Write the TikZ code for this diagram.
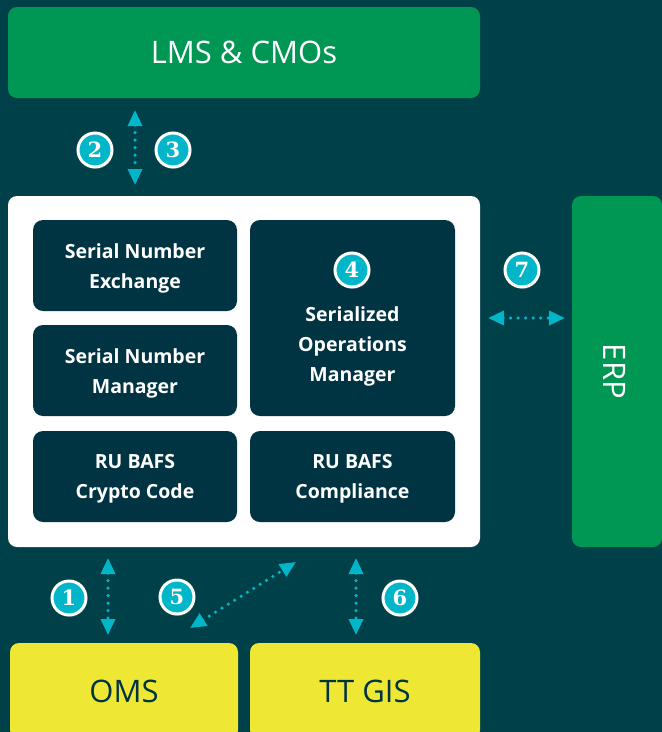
\documentclass[tikz,border=0pt]{standalone}
\usepackage{fontspec}
\setmainfont{Open Sans}
\newfontfamily\numfont{DejaVu Serif}[BoldFont={DejaVu Serif Bold}]
\usetikzlibrary{arrows.meta}
\usetikzlibrary{shadows}
\definecolor{bgteal}{RGB}{0,64,72}
\definecolor{sysgreen}{RGB}{0,150,84}
\definecolor{extyellow}{RGB}{238,232,52}
\definecolor{modblue}{RGB}{0,52,66}
\definecolor{dotcyan}{RGB}{0,182,200}
\tikzset{sysbox/.style={rounded corners=9pt, inner sep=0pt},
         bigtext/.style={font=\fontsize{31}{36}\selectfont},
         modbox/.style={fill=modblue, rounded corners=10pt, inner sep=0pt},
         modtext/.style={text=white, align=center, yshift=-2.5pt, font=\bfseries\fontsize{19.5}{30}\selectfont},
         numdot/.style={circle, fill=dotcyan, draw=white, line width=3pt,
                        minimum size=34pt, inner sep=0pt, text=white,
                        font=\numfont\bfseries\fontsize{21}{21}\selectfont,
                        drop shadow={opacity=0.35, shadow xshift=1pt, shadow yshift=-2pt}},
         flow/.style={draw=dotcyan, line width=3.5pt, line cap=round,
                      dash pattern=on 0pt off 7.5pt,
                      {Triangle[width=14pt,length=16pt]}-{Triangle[width=14pt,length=16pt]}}}

\begin{document}
\begin{tikzpicture}[x=1pt,y=-1pt]
\useasboundingbox (0,0) rectangle (662,732);
\clip (0,0) rectangle (662,732);
\fill[bgteal] (0,0) rectangle (662,732);
% systems around the platform
\node[sysbox, fill=sysgreen, minimum width=472pt, minimum height=91pt, text=white, bigtext] (lms) at (244,52.5) {LMS \& CMOs};
\node[sysbox, fill=sysgreen, minimum width=90pt, minimum height=351pt] (erp) at (617,371.5) {};
\node[text=white, bigtext, rotate=-90] (erplabel) at (615,371.5) {ERP};
\node[sysbox, fill=extyellow, minimum width=228pt, minimum height=96pt, text=modblue, bigtext] (oms) at (124,691) {OMS};
\node[sysbox, fill=extyellow, minimum width=230pt, minimum height=96pt, text=modblue, bigtext] (ttgis) at (365,691) {TT GIS};
% platform with its modules
\node[sysbox, fill=white, minimum width=472pt, minimum height=351pt] (platform) at (244,371.5) {};
\node[modbox, minimum width=204pt, minimum height=91pt] (sne) at (135,265.5) {};
\node[modbox, minimum width=204pt, minimum height=91pt] (snm) at (135,370.5) {};
\node[modbox, minimum width=204pt, minimum height=91pt] (crypto) at (135,476.5) {};
\node[modbox, minimum width=205pt, minimum height=196pt] (som) at (352.5,318) {};
\node[modbox, minimum width=205pt, minimum height=91pt] (compliance) at (352.5,476.5) {};
\node[modtext] (snelabel) at (sne) {Serial Number\\Exchange};
\node[modtext] (snmlabel) at (snm) {Serial Number\\Manager};
\node[modtext] (cryptolabel) at (crypto) {RU BAFS\\Crypto Code};
\node[modtext] (somlabel) at (352.5,344) {Serialized\\Operations\\Manager};
\node[modtext] (compliancelabel) at (compliance) {RU BAFS\\Compliance};
% flow ends
\coordinate (lmsend) at (135,110);
\coordinate (topend) at (135,185);
\coordinate (rightend) at (488,318);
\coordinate (erpend) at (565,318);
\coordinate (omsup) at (108,558);
\coordinate (omsdown) at (108,635);
\coordinate (diagdown) at (190,628);
\coordinate (diagup) at (296,562);
\coordinate (gisup) at (356,558);
\coordinate (gisdown) at (356,635);
\draw[flow] (lmsend) -- (topend);
\draw[flow] (rightend) -- (erpend);
\draw[flow] (omsup) -- (omsdown);
\draw[flow] (diagdown) -- (diagup);
\draw[flow] (gisup) -- (gisdown);
% step numbers
\node[numdot] (n1) at (69,598) {1};
\node[numdot] (n2) at (95,150) {2};
\node[numdot] (n3) at (173,150) {3};
\node[numdot] (n4) at (352,270) {4};
\node[numdot] (n5) at (177,597) {5};
\node[numdot] (n6) at (400,598) {6};
\node[numdot] (n7) at (522,270) {7};
\end{tikzpicture}
\end{document}
